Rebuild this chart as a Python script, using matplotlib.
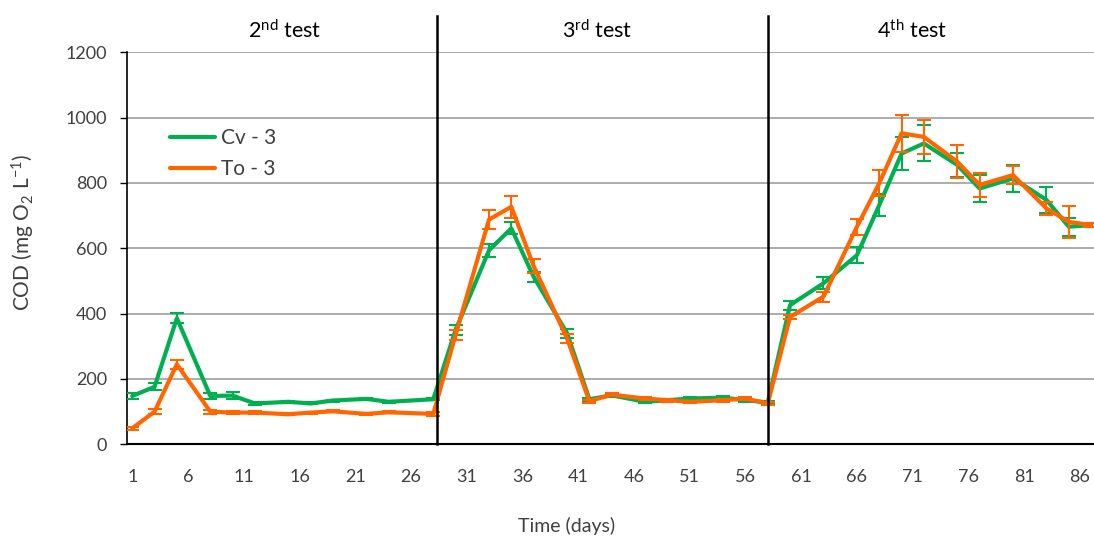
import numpy as np
import matplotlib
matplotlib.use('Agg')
import matplotlib.pyplot as plt

plt.rcParams['font.family'] = ['Lato', 'DejaVu Sans']
plt.rcParams['mathtext.fontset'] = 'custom'
plt.rcParams['mathtext.rm'] = 'Lato'
plt.rcParams['mathtext.default'] = 'regular'

# sampling days
days = [1, 3, 5, 8, 10, 12, 15, 17, 19, 22, 24, 28,
        30, 33, 35, 37, 40, 42, 44, 47, 49, 51, 54, 56, 58,
        60, 63, 66, 68, 70, 72, 75, 77, 80, 83, 85, 87]

cv3 = [148, 176, 386, 148, 149, 125, 130, 125, 134, 139, 130, 138,
       350, 594, 661, 513, 340, 138, 150, 130, 135, 140, 143, 135, 128,
       426, 493, 579, 732, 890, 921, 855, 783, 814, 748, 666, 671]
cv3_err = [10, 11, 15, 8, 10, 4, 3, 3, 3, 4, 3, 3,
           15, 20, 18, 15, 14, 5, 5, 5, 4, 4, 4, 4, 4,
           14, 19, 24, 33, 50, 55, 38, 42, 42, 40, 28, 5]

to3 = [49, 100, 245, 100, 97, 97, 92, 97, 101, 93, 98, 93,
       335, 688, 727, 546, 324, 132, 152, 140, 135, 130, 135, 140, 125,
       390, 452, 666, 799, 952, 941, 865, 794, 824, 722, 681, 671]
to3_err = [4, 8, 13, 6, 5, 4, 3, 3, 3, 4, 3, 5,
           15, 29, 33, 22, 13, 5, 5, 5, 4, 4, 4, 4, 4,
           5, 15, 25, 40, 56, 51, 50, 36, 28, 20, 48, 5]

xticks = list(range(1, 87, 5))
test_bounds = [28.3, 58.0]
test_names = ['2$^{nd}$ test', '3$^{rd}$ test', '4$^{th}$ test']
test_pos = [14.7, 42.7, 71.0]

green = '#00B050'
orange = '#FF6600'

fig = plt.figure(figsize=(10.94, 5.39), dpi=100)
ax = fig.add_axes([0.1158, 0.1757, 0.8856, 0.7273])

ax.errorbar(days, cv3, yerr=cv3_err, fmt='none', ecolor=green, elinewidth=1.5,
            capsize=5, capthick=1.5, zorder=3)
ax.plot(days, cv3, color=green, lw=3, label='Cv - 3', zorder=4,
        solid_joinstyle='round', solid_capstyle='round')
ax.errorbar(days, to3, yerr=to3_err, fmt='none', ecolor=orange, elinewidth=1.5,
            capsize=5, capthick=1.5, zorder=5)
ax.plot(days, to3, color=orange, lw=3, label='To - 3', zorder=6,
        solid_joinstyle='round', solid_capstyle='round')

ax.set_xlim(0.5, 87.4)
ax.set_ylim(0, 1200)
ax.set_yticks(range(0, 1201, 200))
ax.set_xticks(xticks)
ax.set_xticklabels([str(t) for t in xticks])
ax.yaxis.grid(True, color='#A6A6A6', lw=1.3)
ax.set_axisbelow(True)

for s in ['top', 'right']:
    ax.spines[s].set_visible(False)
ax.spines['left'].set_color('black')
ax.spines['bottom'].set_color('black')
ax.spines['left'].set_linewidth(1.2)
ax.spines['bottom'].set_linewidth(1.5)
ax.spines['bottom'].set_zorder(7)

ax.tick_params(axis='x', length=0, pad=18, labelsize=13, labelcolor='#404040')
ax.tick_params(axis='y', direction='out', length=5, width=1, pad=9,
               labelsize=13, labelcolor='#404040')

for b in test_bounds:
    ax.plot([b, b], [0, 1310], color='black', lw=1.8, clip_on=False, zorder=8)
for name, p in zip(test_names, test_pos):
    ax.text(p, 1268, name, ha='center', va='center', fontsize=15.5, color='black')

ax.set_ylabel('COD (mg O$_2$ L$^{-1}$)', fontsize=15, color='#404040')
ax.yaxis.set_label_coords(-0.093, 0.54)
ax.set_xlabel('Time (days)', fontsize=14, color='#404040')
ax.xaxis.set_label_coords(0.454, -0.185)

ax.legend(loc='upper left', bbox_to_anchor=(0.025, 0.855), frameon=False,
          fontsize=15, handlelength=2.2, handletextpad=0.25, labelspacing=0.55,
          labelcolor='#404040')

plt.savefig('out.png', dpi=100)
